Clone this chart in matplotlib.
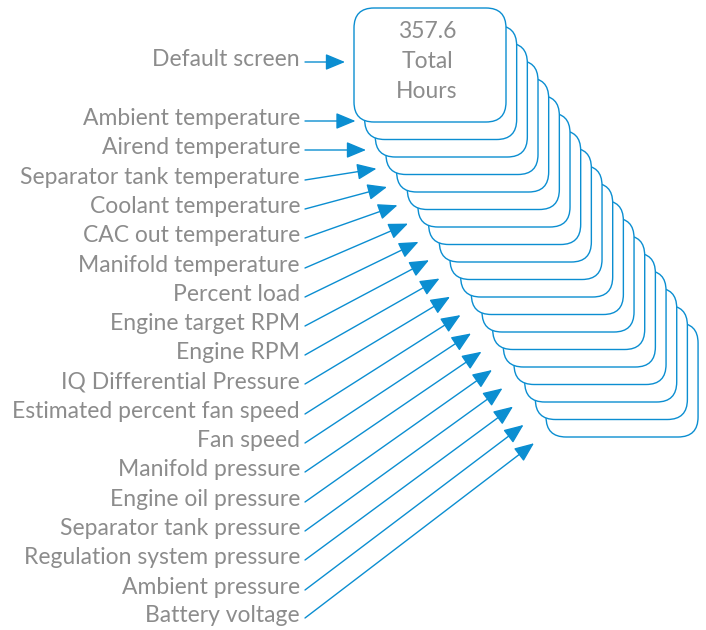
import matplotlib.pyplot as plt
from matplotlib.patches import FancyBboxPatch

plt.rcParams['font.family'] = ['Lato', 'DejaVu Sans']

labels = ['Default screen', 'Ambient temperature', 'Airend temperature',
          'Separator tank temperature', 'Coolant temperature',
          'CAC out temperature', 'Manifold temperature', 'Percent load',
          'Engine target RPM', 'Engine RPM', 'IQ Differential Pressure',
          'Estimated percent fan speed', 'Fan speed', 'Manifold pressure',
          'Engine oil pressure', 'Separator tank pressure',
          'Regulation system pressure', 'Ambient pressure', 'Battery voltage']
label_y = [58, 117, 146, 176, 205, 234, 264, 293, 322, 351, 380, 410, 439,
           468, 498, 527, 556, 586, 614]
screen_text = ['357.6', 'Total', 'Hours']

blue = '#0b8ed1'
gray = '#8c8c8c'

fig = plt.figure(figsize=(7.06, 6.30), dpi=100)
ax = fig.add_axes([0, 0, 1, 1])
ax.set_xlim(0, 706)
ax.set_ylim(630, 0)
ax.axis('off')

# stacked screens, back ones first
x0, y0, w, h = 354, 8, 152, 114
dx, dy = 10.67, 17.5
n = len(labels)
for i in range(n - 1, -1, -1):
    box = FancyBboxPatch((x0 + dx * i, y0 + dy * i), w, h,
                         boxstyle='round,pad=0,rounding_size=20',
                         fc='white', ec=blue, lw=1.0, zorder=2 + (n - i))
    ax.add_patch(box)

for k, t in enumerate(screen_text):
    ax.text(x0 + w / 2 - 3, 32 + k * 29.5, t, ha='center', va='center',
            fontsize=16.5, color=gray, zorder=50)

for i, (lab, y) in enumerate(zip(labels, label_y)):
    ax.text(300, y + 1.5, lab, ha='right', va='center', fontsize=16.5, color=gray)
    tx = 345 + 10.5 * i
    ty = min(y + 4, 113.8 + 18.3 * i)
    ax.annotate('', xy=(tx, ty), xytext=(305, y + 4),
                arrowprops=dict(arrowstyle='-|>,head_length=1.2,head_width=0.5',
                                color=blue, lw=1.0, shrinkA=0, shrinkB=0),
                zorder=1)

fig.savefig('out.png', dpi=100)
